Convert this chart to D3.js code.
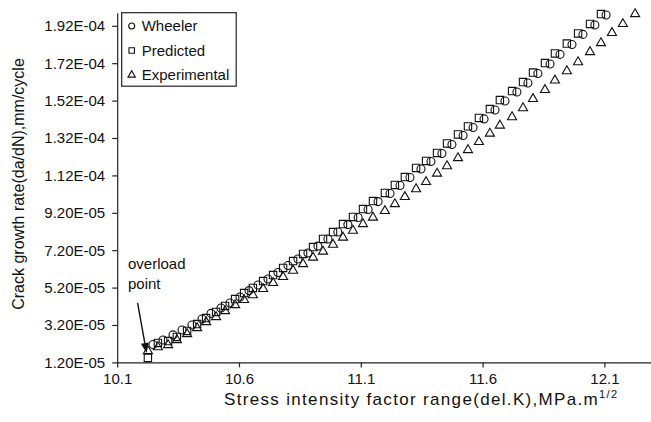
<!DOCTYPE html>
<html>
<head>
<meta charset="utf-8">
<script src="https://d3js.org/d3.v7.min.js"></script>
<style>
  body { margin: 0; background: #fff; }
  svg { font-family: "Liberation Sans", Arial, sans-serif; }
  .axis path, .axis line { stroke: #222; stroke-width: 1.2; }
  .axis text { font-size: 15px; fill: #111; font-family: "Liberation Sans", Arial, sans-serif; }
  .mark { fill: none; stroke: #111; stroke-width: 1.1; }
  .label { font-size: 15px; fill: #111; }
</style>
</head>
<body>
<div id="chart"></div>
<script>
// stress intensity factor range (MPa.m^1/2) vs crack growth rate (mm/cycle)
var wheelerK = [10.247, 10.288, 10.329, 10.366, 10.407, 10.448, 10.485, 10.526, 10.563, 10.604,
                10.641, 10.678, 10.719, 10.760, 10.801, 10.842, 10.883, 10.924, 10.965, 11.006,
                11.047, 11.089, 11.130, 11.171, 11.220, 11.261, 11.302, 11.347, 11.388, 11.433,
                11.474, 11.520, 11.561, 11.606, 11.651, 11.692, 11.741, 11.786, 11.827, 11.877,
                11.918, 11.967, 12.012, 12.061, 12.107];
var wheelerRate = [2.16e-5, 2.40e-5, 2.67e-5, 2.93e-5, 3.20e-5, 3.52e-5, 3.82e-5, 4.11e-5, 4.38e-5, 4.70e-5,
                   5.04e-5, 5.34e-5, 5.66e-5, 6.01e-5, 6.38e-5, 6.73e-5, 7.05e-5, 7.42e-5, 7.80e-5, 8.17e-5,
                   8.57e-5, 8.95e-5, 9.38e-5, 9.80e-5, 1.023e-4, 1.066e-4, 1.109e-4, 1.154e-4, 1.194e-4, 1.237e-4,
                   1.285e-4, 1.333e-4, 1.376e-4, 1.422e-4, 1.470e-4, 1.518e-4, 1.566e-4, 1.614e-4, 1.665e-4, 1.716e-4,
                   1.767e-4, 1.820e-4, 1.874e-4, 1.924e-4, 1.978e-4];

var predictedK = [10.226, 10.267, 10.309, 10.345, 10.387, 10.428, 10.465, 10.506, 10.543, 10.584,
                  10.621, 10.657, 10.699, 10.740, 10.781, 10.822, 10.863, 10.904, 10.945, 10.986,
                  11.027, 11.068, 11.109, 11.150, 11.199, 11.240, 11.281, 11.327, 11.368, 11.413,
                  11.454, 11.499, 11.540, 11.585, 11.630, 11.671, 11.721, 11.766, 11.807, 11.856,
                  11.897, 11.946, 11.992, 12.041, 12.086];
var predictedRate = [1.44e-5, 2.24e-5, 2.34e-5, 2.56e-5, 2.88e-5, 3.25e-5, 3.57e-5, 3.90e-5, 4.22e-5, 4.59e-5,
                     4.91e-5, 5.18e-5, 5.55e-5, 5.87e-5, 6.25e-5, 6.62e-5, 7.00e-5, 7.37e-5, 7.80e-5, 8.17e-5,
                     8.60e-5, 8.98e-5, 9.40e-5, 9.83e-5, 1.026e-4, 1.069e-4, 1.111e-4, 1.160e-4, 1.197e-4, 1.240e-4,
                     1.291e-4, 1.339e-4, 1.382e-4, 1.427e-4, 1.475e-4, 1.523e-4, 1.571e-4, 1.619e-4, 1.670e-4, 1.721e-4,
                     1.772e-4, 1.825e-4, 1.879e-4, 1.930e-4, 1.983e-4];

var experimentalK = [10.226, 10.267, 10.309, 10.345, 10.387, 10.428, 10.465, 10.506, 10.543, 10.584,
                     10.621, 10.657, 10.699, 10.740, 10.781, 10.822, 10.863, 10.904, 10.945, 10.986,
                     11.027, 11.068, 11.109, 11.150, 11.199, 11.240, 11.281, 11.327, 11.368, 11.413,
                     11.454, 11.499, 11.540, 11.585, 11.630, 11.671, 11.721, 11.766, 11.807, 11.856,
                     11.897, 11.946, 11.992, 12.041, 12.086, 12.131, 12.176, 12.226];
var experimentalRate = [1.81e-5, 2.02e-5, 2.13e-5, 2.40e-5, 2.72e-5, 3.04e-5, 3.36e-5, 3.63e-5, 3.95e-5, 4.27e-5,
                        4.54e-5, 4.80e-5, 5.13e-5, 5.45e-5, 5.77e-5, 6.11e-5, 6.46e-5, 6.81e-5, 7.13e-5, 7.50e-5,
                        7.88e-5, 8.25e-5, 8.60e-5, 8.95e-5, 9.30e-5, 9.67e-5, 1.005e-4, 1.047e-4, 1.085e-4, 1.130e-4,
                        1.170e-4, 1.213e-4, 1.256e-4, 1.299e-4, 1.344e-4, 1.387e-4, 1.432e-4, 1.480e-4, 1.529e-4, 1.577e-4,
                        1.628e-4, 1.678e-4, 1.726e-4, 1.780e-4, 1.828e-4, 1.882e-4, 1.930e-4, 1.983e-4];

var xTicks = [10.1, 10.6, 11.1, 11.6, 12.1];
var yTicks = [1.2e-5, 3.2e-5, 5.2e-5, 7.2e-5, 9.2e-5, 1.12e-4, 1.32e-4, 1.52e-4, 1.72e-4, 1.92e-4];
var seriesNames = ["Wheeler", "Predicted", "Experimental"];

var width = 651, height = 422;

var svg = d3.select("#chart").append("svg")
    .attr("width", width)
    .attr("height", height);

var x = d3.scaleLinear().domain([10.1, 12.3]).range([117.2, 653.1]);
var y = d3.scaleLinear().domain([1.2e-5, 1.99e-4]).range([362.4, 12.7]);

// excel style 0.00E+00
function sci(d) {
    return d.toExponential(2).toUpperCase().replace(/E([+-])(\d)$/, "E$10$2");
}

svg.append("g")
    .attr("class", "axis")
    .attr("transform", "translate(" + x.range()[0] + ",0)")
    .call(d3.axisLeft(y).tickValues(yTicks).tickFormat(sci).tickSize(5).tickSizeOuter(0).tickPadding(7));

svg.append("g")
    .attr("class", "axis")
    .attr("transform", "translate(0," + y.range()[0] + ")")
    .call(d3.axisBottom(x).tickValues(xTicks).tickFormat(d3.format(".1f")).tickSize(5).tickSizeOuter(0).tickPadding(6));

// markers
var tri = d3.symbol().type(d3.symbolTriangle).size(36);
var sq = d3.symbol().type(d3.symbolSquare).size(54);

svg.append("g").selectAll("circle")
    .data(d3.zip(wheelerK, wheelerRate))
    .enter().append("circle")
    .attr("class", "mark")
    .attr("cx", function(d) { return x(d[0]); })
    .attr("cy", function(d) { return y(d[1]); })
    .attr("r", 4);

svg.append("g").selectAll("path")
    .data(d3.zip(predictedK, predictedRate))
    .enter().append("path")
    .attr("class", "mark")
    .attr("d", sq)
    .attr("transform", function(d) { return "translate(" + x(d[0]) + "," + y(d[1]) + ")"; });

svg.append("g").selectAll("path")
    .data(d3.zip(experimentalK, experimentalRate))
    .enter().append("path")
    .attr("class", "mark")
    .attr("d", tri)
    .attr("transform", function(d) { return "translate(" + x(d[0]) + "," + y(d[1]) + ")"; });

// overload arrow, pointing at the first experimental point
var tip = [x(experimentalK[0]) - 1.3, y(experimentalRate[0]) + 2];
var tail = [tip[0] - 9, tip[1] - 50];
var ang = Math.atan2(tip[1] - tail[1], tip[0] - tail[0]);
var headLen = 10, headW = 4;
var base = [tip[0] - headLen * Math.cos(ang), tip[1] - headLen * Math.sin(ang)];
svg.append("line")
    .attr("x1", tail[0]).attr("y1", tail[1])
    .attr("x2", base[0]).attr("y2", base[1])
    .attr("stroke", "#111").attr("stroke-width", 1.4);
svg.append("polygon")
    .attr("points", [tip,
        [base[0] + headW * Math.sin(ang), base[1] - headW * Math.cos(ang)],
        [base[0] - headW * Math.sin(ang), base[1] + headW * Math.cos(ang)]].join(" "))
    .attr("fill", "#111");

svg.append("text").attr("class", "label").attr("x", 128).attr("y", 269).text("overload");
svg.append("text").attr("class", "label").attr("x", 128).attr("y", 289).text("point");

// legend
var legend = svg.append("g").attr("transform", "translate(121.7,12.7)");
legend.append("rect")
    .attr("width", 114.5).attr("height", 73.5)
    .attr("fill", "#fff").attr("stroke", "#222").attr("stroke-width", 1.2);
var rows = legend.selectAll(".legend")
    .data(seriesNames)
    .enter().append("g")
    .attr("class", "legend")
    .attr("transform", function(d, i) { return "translate(10," + (13.3 + i * 24.5) + ")"; });
rows.each(function(d, i) {
    var g = d3.select(this);
    if (i == 0) g.append("circle").attr("class", "mark").attr("r", 3);
    if (i == 1) g.append("path").attr("class", "mark").attr("d", d3.symbol().type(d3.symbolSquare).size(30));
    if (i == 2) g.append("path").attr("class", "mark").attr("d", d3.symbol().type(d3.symbolTriangle).size(24));
});
rows.append("text")
    .attr("class", "label")
    .attr("x", 10)
    .attr("y", 5.3)
    .text(function(d) { return d; });

// axis titles
var xt = svg.append("text")
    .attr("class", "label")
    .attr("x", 224).attr("y", 405)
    .attr("textLength", 393)
    .attr("lengthAdjust", "spacing")
    .style("font-size", "17px")
    .text("Stress intensity factor range(del.K),MPa.m");
xt.append("tspan").attr("dy", -7).style("font-size", "11px").text("1/2");

svg.append("text")
    .attr("class", "label")
    .attr("transform", "translate(24,184) rotate(-90)")
    .attr("text-anchor", "middle")
    .style("font-size", "16px")
    .text("Crack growth rate(da/dN),mm/cycle");
</script>
</body>
</html>
